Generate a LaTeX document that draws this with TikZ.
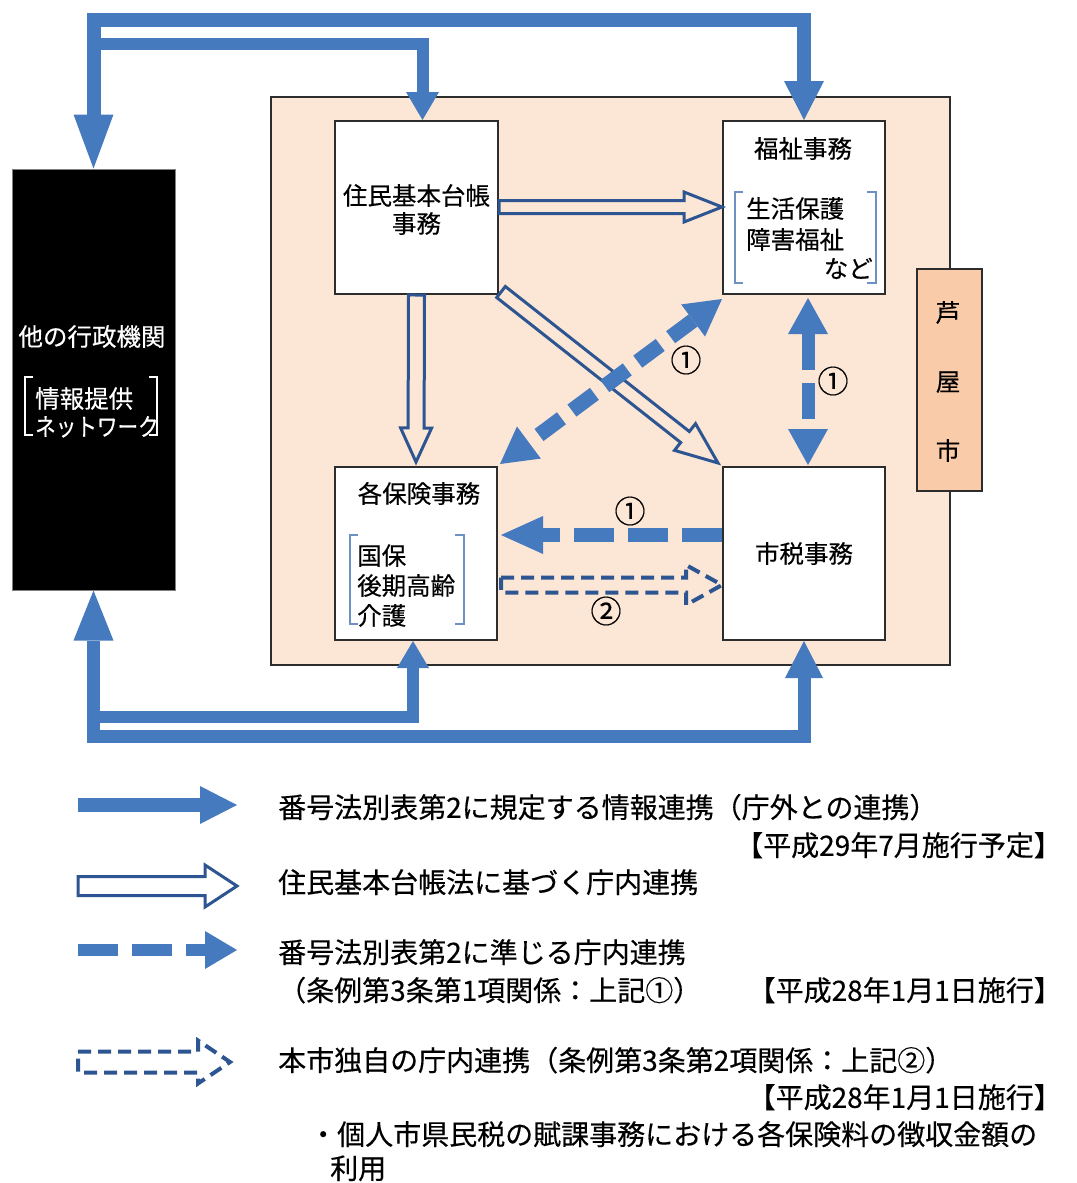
\documentclass[tikz,border=0pt]{standalone}
\usepackage{fontspec}
\setmainfont{Noto Sans CJK JP}[FakeBold=0.35]
\usetikzlibrary{arrows.meta,calc}
\definecolor{blueA}{RGB}{70,122,190}
\definecolor{blueD}{RGB}{45,85,145}
\definecolor{peach}{RGB}{252,230,214}
\definecolor{ashiyac}{RGB}{250,203,168}
\definecolor{brk}{RGB}{110,145,195}
\definecolor{boxline}{RGB}{45,45,45}
\newcommand\hollowarr[6]{%
  \coordinate (hH) at ($(#3)!#6!(#2)$);
  \draw[#1] ($(#2)!#4!90:(#3)$) -- ($(hH)!#4!90:(#3)$) -- ($(hH)!#5!90:(#3)$) -- (#3)
    -- ($(hH)!#5!-90:(#3)$) -- ($(hH)!#4!-90:(#3)$) -- ($(#2)!#4!-90:(#3)$) -- cycle;
}
\begin{document}
\begin{tikzpicture}[x=1pt,y=-1pt,
  box/.style={draw=boxline, line width=2pt, fill=white, inner sep=0pt},
  txt/.style={inner sep=0pt, text height=0.88em, text depth=0.12em, yshift=-6pt, font=\fontsize{24.5pt}{28pt}\selectfont},
  leg/.style={inner sep=0pt, text height=0.88em, text depth=0.12em, yshift=-7pt, font=\fontsize{28pt}{32pt}\selectfont, anchor=west},
  num/.style={inner sep=0pt, text height=0.88em, text depth=0.12em, yshift=-6pt, font=\fontsize{31pt}{34pt}\selectfont},
  brkline/.style={draw=brk, line width=1.6pt},
  hollow/.style={draw=blueD, line width=3pt},
  dhollow/.style={draw=blueD, line width=4pt, dash pattern=on 13pt off 7pt},
  fat/.style={draw=blueA, line join=miter},
  fatdash/.style={draw=blueA, dash pattern=on 32pt off 14pt}
]
\useasboundingbox (0,0) rectangle (1076,1183);
\fill[white] (0,0) rectangle (1076,1183);

% city frame
\node[draw=boxline, line width=1.6pt, fill=peach, minimum width=679pt, minimum height=568pt, inner sep=0pt] (city) at (610.5,381) {};
\node[draw=boxline, line width=1.6pt, fill=ashiyac, minimum width=65pt, minimum height=222pt, inner sep=0pt] (ashiya) at (949.5,380) {};
\node[txt] (a1t) at (948,312) {芦};
\node[txt] (a2t) at (948,381) {屋};
\node[txt] (a3t) at (948,450) {市};

% boxes
\node[box, minimum width=163pt, minimum height=173pt] (jumin) at (416.5,207.5) {};
\node[box, minimum width=162pt, minimum height=173pt] (fukushi) at (804,207.5) {};
\node[box, minimum width=162pt, minimum height=173pt] (hoken) at (416,553.5) {};
\node[box, minimum width=162pt, minimum height=173pt] (zei) at (804,553.5) {};
\node[draw=gray, line width=1pt, fill=black, minimum width=163pt, minimum height=421pt, inner sep=0pt] (ext) at (93.5,379.5) {};

% texts in boxes
\node[txt] (j1) at (416.5,195) {住民基本台帳};
\node[txt] (j2) at (416.5,223) {事務};
\node[txt] (f1) at (803,148) {福祉事務};
\node[txt, anchor=west] (f2) at (746,208) {生活保護};
\node[txt, anchor=west] (f3) at (746,239) {障害福祉};
\node[txt, anchor=east] (f4) at (873,268) {など};
\node[txt] (h1) at (419,493) {各保険事務};
\node[txt, anchor=west] (h2) at (357,555) {国保};
\node[txt, anchor=west] (h3) at (357,585) {後期高齢};
\node[txt, anchor=west] (h4) at (357,615) {介護};
\node[txt] (z1) at (804,553) {市税事務};
\node[txt, text=white] (e1) at (92,336) {他の行政機関};
\node[txt, text=white, anchor=west] (e2) at (35,398) {情報提供};
\node[txt, text=white, anchor=west] (e3) at (35,426) {\scalebox{0.84}[1]{ネットワーク}};

% brackets
\draw[brkline] (743,192) -- (735,192) -- (735,283) -- (743,283);
\draw[brkline] (867,192) -- (876,192) -- (876,283) -- (867,283);
\draw[brkline] (358,535) -- (350,535) -- (350,624) -- (358,624);
\draw[brkline] (455,535) -- (464,535) -- (464,624) -- (455,624);
\draw[draw=white, line width=1.6pt] (33,377) -- (25,377) -- (25,435) -- (33,435);
\draw[draw=white, line width=1.6pt] (149,377) -- (157,377) -- (157,435) -- (149,435);

% helper coordinates
\coordinate (yT1) at (0,20);
\coordinate (yT2) at (0,44);
\coordinate (yB1) at (0,736);
\coordinate (yB2) at (0,717);
\coordinate (yA) at (0,207);
\coordinate (yB) at (0,535);
\coordinate (yC) at (0,585);

% external links (top)
\draw[fat, line width=14pt, {Triangle[width=40pt,length=54pt,line width=0pt]}-{Triangle[width=40pt,length=39pt,line width=0pt]}]
  (ext.north) -- (ext.north |- yT1) -| (fukushi.north);
\coordinate (t2a) at (ext.north |- yT2);
\coordinate (t2s) at ($(t2a)+(-6,0)$);
\coordinate (t2e) at ($(jumin.north)+(6,0)$);
\draw[fat, line width=12pt, -{Triangle[width=33pt,length=28pt,line width=0pt]}] (t2s) -| (t2e);

% external links (bottom)
\draw[fat, line width=13pt, {Triangle[width=40pt,length=50pt,line width=0pt]}-{Triangle[width=38pt,length=37pt,line width=0pt]}]
  (ext.south) -- (ext.south |- yB1) -| (zei.south);
\coordinate (b2a) at (ext.south |- yB2);
\coordinate (b2s) at ($(b2a)+(-6,0)$);
\coordinate (b2e) at ($(hoken.south)+(-3,0)$);
\draw[fat, line width=12pt, -{Triangle[width=32pt,length=27pt,line width=0pt]}] (b2s) -| (b2e);

% hollow arrows (住基)
\coordinate (ha1) at (jumin.east |- yA);
\coordinate (hb1) at (fukushi.west |- yA);
\hollowarr{hollow}{ha1}{hb1}{6.5pt}{15pt}{38pt}
\coordinate (ha2) at (jumin.south);
\coordinate (hb2) at ($(hoken.north)+(0,-4)$);
\hollowarr{hollow}{ha2}{hb2}{8pt}{15.5pt}{34pt}
\coordinate (ha3) at ($(jumin.south east)+(2,-3)$);
\coordinate (hb3) at ($(zei.north west)+(-4,-3)$);
\hollowarr{hollow}{ha3}{hb3}{7pt}{17pt}{42pt}

% dashed thick arrows (1)
\draw[fatdash, line width=15pt, dash pattern=on 28pt off 13pt, {Triangle[width=40pt,length=36pt,line width=0pt]}-{Triangle[width=40pt,length=36pt,line width=0pt]}]
  ($(fukushi.south west)+(0,4)$) -- ($(hoken.north east)+(2,-2)$);
\draw[fatdash, line width=13pt, dash pattern=on 36pt off 13pt, {Triangle[width=40pt,length=36pt,line width=0pt]}-{Triangle[width=40pt,length=36pt,line width=0pt]}]
  ($(fukushi.south)+(4,3)$) -- ($(zei.north)+(4,-1)$);
\coordinate (da) at (zei.west |- yB);
\coordinate (db) at ($(hoken.east |- yB)+(3,0)$);
\draw[fatdash, line width=14pt, dash pattern=on 40pt off 14pt, -{Triangle[width=38pt,length=42pt,line width=0pt]}] (da) -- (db);

% dashed hollow arrow (2)
\coordinate (ea) at ($(hoken.east |- yC)+(3,0)$);
\coordinate (eb) at (zei.west |- yC);
\hollowarr{dhollow}{ea}{eb}{7.5pt}{20pt}{36pt}

% labels
\node[num] (n1) at (686,362) {①};
\node[num] (n2) at (833,383) {①};
\node[num] (n3) at (630,513) {①};
\node[num] (n4) at (606,613) {②};

% legend
\coordinate (L1a) at (78,805);
\coordinate (L1b) at (237,805);
\draw[fat, line width=14pt, -{Triangle[width=38pt,length=37pt,line width=0pt]}] (L1a) -- (L1b);
\coordinate (L2a) at (78,886);
\coordinate (L2b) at (237,886);
\hollowarr{hollow}{L2a}{L2b}{9.5pt}{21pt}{32pt}
\coordinate (L3a) at (78,950);
\coordinate (L3b) at (237,950);
\draw[fatdash, line width=12pt, dash pattern=on 40pt off 14pt, -{Triangle[width=38pt,length=32pt,line width=0pt]}] (L3a) -- (L3b);
\coordinate (L4a) at (78,1062);
\coordinate (L4b) at (230,1062);
\hollowarr{dhollow}{L4a}{L4b}{10.5pt}{21.5pt}{32pt}

\node[leg] (t1) at (278,807) {番号法別表第2に規定する情報連携（庁外との連携）};
\node[leg, anchor=east] (t2) at (1062,845) {【平成29年7月施行予定】};
\node[leg] (t3) at (278,882) {住民基本台帳法に基づく庁内連携};
\node[leg] (t4) at (278,952) {番号法別表第2に準じる庁内連携};
\node[leg] (t5) at (278,990) {（条例第3条第1項関係：上記①）};
\node[leg, anchor=east] (t6) at (1062,990) {【平成28年1月1日施行】};
\node[leg] (t7) at (278,1060) {本市独自の庁内連携（条例第3条第2項関係：上記②）};
\node[leg, anchor=east] (t8) at (1062,1097) {【平成28年1月1日施行】};
\node[leg] (t9) at (309,1134) {・個人市県民税の賦課事務における各保険料の徴収金額の};
\node[leg] (t10) at (330,1168) {利用};
\end{tikzpicture}
\end{document}
